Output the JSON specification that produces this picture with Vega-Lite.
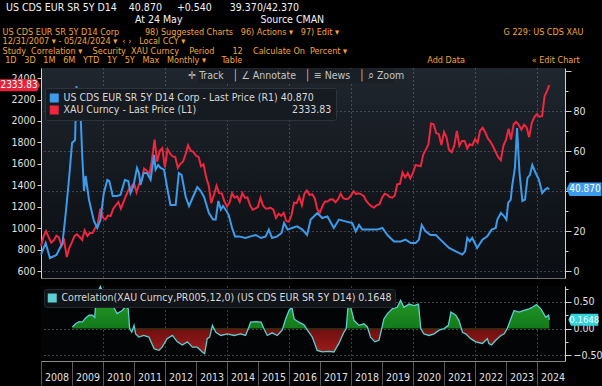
{
 "$schema": "https://vega.github.io/schema/vega-lite/v6.json",
 "background": "#000000",
 "padding": {"left": 0, "top": 2, "right": 0, "bottom": 0},
 "bounds": "flush",
 "spacing": 8,
 "resolve": {"scale": {"color": "independent", "stroke": "independent"}, "legend": {"color": "independent", "stroke": "independent"}},
 "title": {
  "text": ["\u200b\u00a0\u00a0US CDS EUR SR 5Y D14\u00a0\u00a0\u00a0\u00a040.870\u00a0\u00a0\u00a0\u00a0\u00a0+0.540\u00a0\u00a0\u00a0\u00a0\u00a0\u00a039.370/42.370", "\u200b\u00a0\u00a0\u00a0\u00a0\u00a0\u00a0\u00a0\u00a0\u00a0\u00a0\u00a0\u00a0\u00a0\u00a0\u00a0\u00a0\u00a0\u00a0\u00a0\u00a0\u00a0\u00a0\u00a0\u00a0\u00a0\u00a0\u00a0\u00a0\u00a0\u00a0\u00a0\u00a0\u00a0\u00a0\u00a0\u00a0\u00a0\u00a0\u00a0\u00a0\u00a0\u00a0\u00a0\u00a0\u00a0At 24 May\u00a0\u00a0\u00a0\u00a0\u00a0\u00a0\u00a0\u00a0\u00a0\u00a0\u00a0\u00a0\u00a0\u00a0\u00a0\u00a0\u00a0\u00a0\u00a0\u00a0\u00a0\u00a0\u00a0\u00a0\u00a0\u00a0Source CMAN"],
  "subtitle": ["\u200b\u00a0US CDS EUR SR 5Y D14 Corp\u00a0\u00a0\u00a0\u00a0\u00a0\u00a0\u00a0\u00a0\u00a0\u00a098) Suggested Charts\u00a0\u00a0\u00a096) Actions \u25be\u00a0\u00a0\u00a097) Edit \u25be\u00a0\u00a0\u00a0\u00a0\u00a0\u00a0\u00a0\u00a0\u00a0\u00a0\u00a0\u00a0\u00a0\u00a0\u00a0\u00a0\u00a0\u00a0\u00a0\u00a0\u00a0\u00a0\u00a0\u00a0\u00a0\u00a0\u00a0\u00a0\u00a0\u00a0\u00a0\u00a0\u00a0\u00a0\u00a0\u00a0\u00a0\u00a0\u00a0\u00a0\u00a0\u00a0\u00a0\u00a0\u00a0\u00a0\u00a0\u00a0\u00a0\u00a0\u00a0\u00a0\u00a0\u00a0\u00a0\u00a0\u00a0\u00a0\u00a0\u00a0\u00a0\u00a0\u00a0\u00a0G 229: US CDS XAU", "\u200b\u00a012/31/2007 \u25be - 05/24/2024 \u25be\u00a0\u00a0\u2039 \u203a\u00a0\u00a0\u00a0Local CCY \u25be", "\u200b\u00a0Study\u00a0\u00a0Correlation \u25be\u00a0\u00a0\u00a0\u00a0Security\u00a0\u00a0XAU Curncy\u00a0\u00a0\u00a0\u00a0Period\u00a0\u00a0\u00a0\u00a0\u00a0\u00a0\u00a012\u00a0\u00a0\u00a0\u00a0Calculate On\u00a0\u00a0Percent \u25be", "\u200b\u00a0\u00a01D\u00a0\u00a0\u00a03D\u00a0\u00a0\u00a01M\u00a0\u00a0\u00a06M\u00a0\u00a0\u00a0YTD\u00a0\u00a0\u00a01Y\u00a0\u00a0\u00a05Y\u00a0\u00a0\u00a0Max\u00a0\u00a0\u00a0Monthly \u25be\u00a0\u00a0\u00a0\u00a0\u00a0\u00a0Table\u00a0\u00a0\u00a0\u00a0\u00a0\u00a0\u00a0\u00a0\u00a0\u00a0\u00a0\u00a0\u00a0\u00a0\u00a0\u00a0\u00a0\u00a0\u00a0\u00a0\u00a0\u00a0\u00a0\u00a0\u00a0\u00a0\u00a0\u00a0\u00a0\u00a0\u00a0\u00a0\u00a0\u00a0\u00a0\u00a0\u00a0\u00a0\u00a0\u00a0\u00a0\u00a0\u00a0\u00a0\u00a0\u00a0\u00a0\u00a0\u00a0\u00a0\u00a0\u00a0\u00a0\u00a0\u00a0\u00a0\u00a0\u00a0\u00a0\u00a0\u00a0\u00a0\u00a0\u00a0\u00a0\u00a0\u00a0\u00a0\u00a0\u00a0\u00a0\u00a0Add Data\u00a0\u00a0\u00a0\u00a0\u00a0\u00a0\u00a0\u00a0\u00a0\u00a0\u00a0\u00a0\u00a0\u00a0\u00a0\u00a0\u00a0\u00a0\u00a0\u00a0\u00a0\u00a0\u00a0\u00a0\u00a0\u00a0\u00ab Edit Chart"],
  "anchor": "start",
  "frame": "bounds",
  "font": "DejaVu Sans Condensed, Liberation Sans Narrow, Liberation Sans, sans-serif",
  "fontSize": 10.5,
  "lineHeight": 12.5,
  "fontWeight": "normal",
  "color": "#f2f2f2",
  "subtitleFont": "DejaVu Sans Condensed, Liberation Sans Narrow, Liberation Sans, sans-serif",
  "subtitleFontSize": 9,
  "subtitleLineHeight": 9.5,
  "subtitleColor": "#f3a43a",
  "subtitlePadding": 2,
  "offset": 1
 },
 "datasets": {
  "xau": [
   {"date":"2008-01-01","value":834},{"date":"2008-01-31","value":923},{"date":"2008-02-29","value":972},{"date":"2008-03-31","value":916},{"date":"2008-04-30","value":865},{"date":"2008-05-30","value":886},{"date":"2008-06-30","value":930},{"date":"2008-07-31","value":913},{"date":"2008-08-29","value":834},{"date":"2008-09-30","value":884},{"date":"2008-10-31","value":730},{"date":"2008-11-28","value":815},{"date":"2008-12-31","value":870},
   {"date":"2009-01-30","value":928},{"date":"2009-02-27","value":943},{"date":"2009-03-31","value":917},{"date":"2009-04-30","value":890},{"date":"2009-05-29","value":980},{"date":"2009-06-30","value":927},{"date":"2009-07-31","value":955},{"date":"2009-08-31","value":955},{"date":"2009-09-30","value":1001},{"date":"2009-10-30","value":1040},{"date":"2009-11-30","value":1182},{"date":"2009-12-31","value":1097},
   {"date":"2010-01-29","value":1081},{"date":"2010-02-26","value":1118},{"date":"2010-03-31","value":1113},{"date":"2010-04-30","value":1180},{"date":"2010-05-31","value":1213},{"date":"2010-06-30","value":1244},{"date":"2010-07-30","value":1181},{"date":"2010-08-31","value":1248},{"date":"2010-09-30","value":1307},{"date":"2010-10-29","value":1357},{"date":"2010-11-30","value":1386},{"date":"2010-12-31","value":1421},
   {"date":"2011-01-31","value":1333},{"date":"2011-02-28","value":1410},{"date":"2011-03-31","value":1439},{"date":"2011-04-29","value":1556},{"date":"2011-05-31","value":1536},{"date":"2011-06-30","value":1500},{"date":"2011-07-29","value":1628},{"date":"2011-08-31","value":1826},{"date":"2011-09-30","value":1620},{"date":"2011-10-31","value":1722},{"date":"2011-11-30","value":1746},{"date":"2011-12-30","value":1566},
   {"date":"2012-01-31","value":1737},{"date":"2012-02-29","value":1697},{"date":"2012-03-30","value":1669},{"date":"2012-04-30","value":1664},{"date":"2012-05-31","value":1561},{"date":"2012-06-29","value":1598},{"date":"2012-07-31","value":1622},{"date":"2012-08-31","value":1691},{"date":"2012-09-28","value":1772},{"date":"2012-10-31","value":1720},{"date":"2012-11-30","value":1711},{"date":"2012-12-31","value":1675},
   {"date":"2013-01-31","value":1664},{"date":"2013-02-28","value":1578},{"date":"2013-03-29","value":1596},{"date":"2013-04-30","value":1472},{"date":"2013-05-31","value":1393},{"date":"2013-06-28","value":1234},{"date":"2013-07-31","value":1312},{"date":"2013-08-30","value":1396},{"date":"2013-09-30","value":1326},{"date":"2013-10-31","value":1323},{"date":"2013-11-29","value":1253},{"date":"2013-12-31","value":1202},
   {"date":"2014-01-31","value":1240},{"date":"2014-02-28","value":1326},{"date":"2014-03-31","value":1284},{"date":"2014-04-30","value":1296},{"date":"2014-05-30","value":1246},{"date":"2014-06-30","value":1327},{"date":"2014-07-31","value":1282},{"date":"2014-08-29","value":1287},{"date":"2014-09-30","value":1210},{"date":"2014-10-31","value":1172},{"date":"2014-11-28","value":1183},{"date":"2014-12-31","value":1199},
   {"date":"2015-01-30","value":1284},{"date":"2015-02-27","value":1213},{"date":"2015-03-31","value":1183},{"date":"2015-04-30","value":1184},{"date":"2015-05-29","value":1190},{"date":"2015-06-30","value":1172},{"date":"2015-07-31","value":1095},{"date":"2015-08-31","value":1135},{"date":"2015-09-30","value":1115},{"date":"2015-10-30","value":1142},{"date":"2015-11-30","value":1065},{"date":"2015-12-31","value":1061},
   {"date":"2016-01-29","value":1118},{"date":"2016-02-29","value":1238},{"date":"2016-03-31","value":1233},{"date":"2016-04-29","value":1293},{"date":"2016-05-31","value":1215},{"date":"2016-06-30","value":1322},{"date":"2016-07-29","value":1351},{"date":"2016-08-31","value":1309},{"date":"2016-09-30","value":1316},{"date":"2016-10-31","value":1277},{"date":"2016-11-30","value":1173},{"date":"2016-12-30","value":1146},
   {"date":"2017-01-31","value":1211},{"date":"2017-02-28","value":1249},{"date":"2017-03-31","value":1249},{"date":"2017-04-28","value":1268},{"date":"2017-05-31","value":1269},{"date":"2017-06-30","value":1242},{"date":"2017-07-31","value":1269},{"date":"2017-08-31","value":1322},{"date":"2017-09-29","value":1280},{"date":"2017-10-31","value":1271},{"date":"2017-11-30","value":1275},{"date":"2017-12-29","value":1303},
   {"date":"2018-01-31","value":1345},{"date":"2018-02-28","value":1318},{"date":"2018-03-30","value":1325},{"date":"2018-04-30","value":1316},{"date":"2018-05-31","value":1299},{"date":"2018-06-29","value":1253},{"date":"2018-07-31","value":1224},{"date":"2018-08-31","value":1202},{"date":"2018-09-28","value":1192},{"date":"2018-10-31","value":1215},{"date":"2018-11-30","value":1222},{"date":"2018-12-31","value":1282},
   {"date":"2019-01-31","value":1321},{"date":"2019-02-28","value":1313},{"date":"2019-03-29","value":1292},{"date":"2019-04-30","value":1284},{"date":"2019-05-31","value":1305},{"date":"2019-06-28","value":1409},{"date":"2019-07-31","value":1414},{"date":"2019-08-30","value":1520},{"date":"2019-09-30","value":1472},{"date":"2019-10-31","value":1513},{"date":"2019-11-29","value":1464},{"date":"2019-12-31","value":1517},
   {"date":"2020-01-31","value":1589},{"date":"2020-02-28","value":1585},{"date":"2020-03-31","value":1577},{"date":"2020-04-30","value":1687},{"date":"2020-05-29","value":1730},{"date":"2020-06-30","value":1781},{"date":"2020-07-31","value":1975},{"date":"2020-08-31","value":1968},{"date":"2020-09-30","value":1886},{"date":"2020-10-30","value":1879},{"date":"2020-11-30","value":1776},{"date":"2020-12-31","value":1898},
   {"date":"2021-01-29","value":1847},{"date":"2021-02-26","value":1734},{"date":"2021-03-31","value":1708},{"date":"2021-04-30","value":1769},{"date":"2021-05-31","value":1907},{"date":"2021-06-30","value":1770},{"date":"2021-07-30","value":1814},{"date":"2021-08-31","value":1814},{"date":"2021-09-30","value":1743},{"date":"2021-10-29","value":1783},{"date":"2021-11-30","value":1774},{"date":"2021-12-31","value":1829},
   {"date":"2022-01-31","value":1797},{"date":"2022-02-28","value":1909},{"date":"2022-03-31","value":1937},{"date":"2022-04-29","value":1897},{"date":"2022-05-31","value":1837},{"date":"2022-06-30","value":1807},{"date":"2022-07-29","value":1766},{"date":"2022-08-31","value":1711},{"date":"2022-09-30","value":1661},{"date":"2022-10-31","value":1633},{"date":"2022-11-30","value":1768},{"date":"2022-12-30","value":1824},
   {"date":"2023-01-31","value":1928},{"date":"2023-02-28","value":1827},{"date":"2023-03-31","value":1969},{"date":"2023-04-28","value":1990},{"date":"2023-05-31","value":1963},{"date":"2023-06-30","value":1919},{"date":"2023-07-31","value":1965},{"date":"2023-08-31","value":1940},{"date":"2023-09-29","value":1849},{"date":"2023-10-31","value":1983},{"date":"2023-11-30","value":2036},{"date":"2023-12-29","value":2063},
   {"date":"2024-01-31","value":2039},{"date":"2024-02-29","value":2044},{"date":"2024-03-29","value":2230},{"date":"2024-04-30","value":2286},{"date":"2024-05-24","value":2334}
  ],
  "cds": [
   {"date":"2008-01-01","value":8.2},{"date":"2008-02-25","value":14},{"date":"2008-04-15","value":6.5},{"date":"2008-07-01","value":8},{"date":"2008-09-10","value":14},{"date":"2008-10-15","value":27.5},{"date":"2008-11-25","value":45.5},
   {"date":"2009-01-01","value":64},{"date":"2009-02-05","value":65.5},{"date":"2009-02-22","value":92.5},{"date":"2009-03-15","value":79},{"date":"2009-04-01","value":89},{"date":"2009-05-01","value":57.5},{"date":"2009-05-22","value":40},{"date":"2009-06-10","value":47.5},{"date":"2009-07-20","value":35.5},{"date":"2009-09-15","value":25},{"date":"2009-10-25","value":21.5},{"date":"2009-12-01","value":25.5},
   {"date":"2010-01-10","value":39},{"date":"2010-02-20","value":45.5},{"date":"2010-03-15","value":45},{"date":"2010-04-25","value":37.5},{"date":"2010-06-15","value":37.5},{"date":"2010-07-25","value":38},{"date":"2010-09-15","value":45.5},{"date":"2010-10-25","value":45},{"date":"2010-11-20","value":39},{"date":"2010-12-25","value":42.5},
   {"date":"2011-02-05","value":51.5},{"date":"2011-02-28","value":49},{"date":"2011-03-18","value":43},{"date":"2011-04-25","value":49},{"date":"2011-06-01","value":49},{"date":"2011-07-15","value":45.7},{"date":"2011-08-25","value":58},{"date":"2011-09-12","value":50.7},{"date":"2011-10-12","value":53},{"date":"2011-11-10","value":51.5},{"date":"2011-12-20","value":50.7},
   {"date":"2012-01-25","value":42},{"date":"2012-03-05","value":33},{"date":"2012-05-05","value":33},{"date":"2012-06-12","value":49},{"date":"2012-07-15","value":48},{"date":"2012-09-01","value":37},{"date":"2012-10-10","value":32.5},{"date":"2012-11-25","value":37},
   {"date":"2013-01-15","value":42},{"date":"2013-02-25","value":40},{"date":"2013-04-05","value":37},{"date":"2013-06-01","value":29},{"date":"2013-07-20","value":25.7},{"date":"2013-08-20","value":25.7},{"date":"2013-09-20","value":35},{"date":"2013-10-20","value":30.7},{"date":"2013-11-15","value":32.5},{"date":"2013-12-25","value":30},
   {"date":"2014-01-20","value":28},{"date":"2014-03-01","value":21.5},{"date":"2014-04-05","value":17.3},{"date":"2014-05-20","value":17.3},{"date":"2014-08-05","value":16.5},{"date":"2014-10-05","value":17.3},{"date":"2014-12-05","value":18},
   {"date":"2015-02-05","value":16.5},{"date":"2015-04-01","value":17.3},{"date":"2015-05-08","value":20.7},{"date":"2015-06-15","value":16.5},{"date":"2015-08-15","value":17.3},{"date":"2015-10-05","value":19},{"date":"2015-11-03","value":24},{"date":"2015-12-15","value":20.7},
   {"date":"2016-02-05","value":21.5},{"date":"2016-04-05","value":22.3},{"date":"2016-06-05","value":20.7},{"date":"2016-08-01","value":18},{"date":"2016-09-12","value":25.7},{"date":"2016-12-01","value":29},
   {"date":"2017-01-25","value":26.5},{"date":"2017-03-28","value":27.3},{"date":"2017-06-12","value":21.5},{"date":"2017-08-10","value":25.7},{"date":"2017-10-28","value":24.8},
   {"date":"2018-01-15","value":24},{"date":"2018-02-25","value":19.8},{"date":"2018-04-05","value":23},{"date":"2018-05-12","value":20.7},{"date":"2018-08-01","value":20.7},{"date":"2018-11-05","value":20.7},
   {"date":"2019-01-05","value":21.5},{"date":"2019-03-05","value":18},{"date":"2019-05-22","value":14.8},{"date":"2019-08-08","value":14.8},{"date":"2019-10-05","value":15.7},{"date":"2019-12-05","value":14},
   {"date":"2020-02-01","value":14},{"date":"2020-03-10","value":15.7},{"date":"2020-04-12","value":23},{"date":"2020-05-28","value":19.8},{"date":"2020-07-25","value":18},{"date":"2020-09-25","value":18},{"date":"2020-12-10","value":14.8},
   {"date":"2021-02-28","value":11.5},{"date":"2021-05-18","value":9.8},{"date":"2021-08-03","value":8.2},{"date":"2021-09-05","value":9.8},{"date":"2021-10-01","value":16.5},{"date":"2021-10-30","value":14.8},{"date":"2021-11-28","value":16.5},
   {"date":"2022-01-25","value":11.5},{"date":"2022-03-28","value":15.7},{"date":"2022-05-25","value":17.3},{"date":"2022-07-15","value":20.7},{"date":"2022-09-01","value":21.5},{"date":"2022-09-20","value":25.7},{"date":"2022-11-01","value":29},{"date":"2022-12-10","value":27.3},
   {"date":"2023-01-05","value":25.7},{"date":"2023-01-25","value":34},{"date":"2023-02-25","value":35.7},{"date":"2023-03-12","value":42},{"date":"2023-04-15","value":51.5},{"date":"2023-05-10","value":71.5},{"date":"2023-06-08","value":49},{"date":"2023-07-12","value":35},{"date":"2023-08-12","value":35.7},{"date":"2023-09-10","value":46.5},{"date":"2023-10-08","value":48},{"date":"2023-11-06","value":53},{"date":"2023-12-15","value":49},
   {"date":"2024-01-22","value":45.7},{"date":"2024-03-02","value":39},{"date":"2024-04-05","value":40.7},{"date":"2024-05-01","value":41.5},{"date":"2024-05-24","value":40.87}
  ],
  "corr": [
   {"date":"2009-01-05","value":0.03},{"date":"2009-02-12","value":0.09},{"date":"2009-03-25","value":0.13},{"date":"2009-05-01","value":0.12},{"date":"2009-06-10","value":0.2},{"date":"2009-07-20","value":0.25},{"date":"2009-08-28","value":0.25},{"date":"2009-09-25","value":0.21},{"date":"2009-10-12","value":0.62},{"date":"2009-12-01","value":0.79},
   {"date":"2010-01-10","value":0.62},{"date":"2010-04-01","value":0.59},{"date":"2010-05-08","value":0.4},{"date":"2010-06-15","value":0.28},{"date":"2010-08-15","value":0.34},{"date":"2010-10-01","value":0.43},{"date":"2010-10-25","value":0.37},{"date":"2010-11-10","value":0.0},{"date":"2010-12-05","value":-0.07},
   {"date":"2011-01-01","value":0.06},{"date":"2011-01-20","value":-0.1},{"date":"2011-02-28","value":-0.16},{"date":"2011-04-25","value":-0.13},{"date":"2011-06-25","value":-0.16},{"date":"2011-08-25","value":-0.38},{"date":"2011-10-22","value":-0.41},{"date":"2011-11-28","value":-0.35},
   {"date":"2012-01-25","value":-0.19},{"date":"2012-03-28","value":-0.13},{"date":"2012-05-25","value":-0.25},{"date":"2012-07-22","value":-0.31},{"date":"2012-09-20","value":-0.25},{"date":"2012-11-18","value":-0.35},
   {"date":"2013-01-15","value":-0.35},{"date":"2013-03-15","value":-0.44},{"date":"2013-04-12","value":-0.47},{"date":"2013-05-12","value":-0.19},{"date":"2013-06-10","value":-0.16},{"date":"2013-07-12","value":0.06},{"date":"2013-08-22","value":-0.07},{"date":"2013-10-20","value":-0.13},
   {"date":"2014-01-05","value":-0.1},{"date":"2014-03-25","value":-0.13},{"date":"2014-06-10","value":-0.1},{"date":"2014-08-08","value":-0.13},{"date":"2014-09-15","value":0.03},{"date":"2014-10-05","value":0.12},{"date":"2014-12-05","value":0.13},
   {"date":"2015-02-05","value":0.12},{"date":"2015-03-10","value":0.0},{"date":"2015-04-20","value":-0.13},{"date":"2015-06-15","value":-0.08},{"date":"2015-08-15","value":-0.13},{"date":"2015-10-12","value":-0.03},{"date":"2015-11-22","value":0.18},
   {"date":"2016-01-01","value":0.34},{"date":"2016-02-03","value":0.4},{"date":"2016-03-01","value":0.18},{"date":"2016-04-25","value":0.12},{"date":"2016-06-25","value":0.07},{"date":"2016-08-05","value":-0.03},{"date":"2016-10-01","value":-0.16},{"date":"2016-11-28","value":-0.41},
   {"date":"2017-01-25","value":-0.44},{"date":"2017-04-15","value":-0.43},{"date":"2017-06-12","value":-0.44},{"date":"2017-08-10","value":-0.28},{"date":"2017-10-08","value":-0.07},{"date":"2017-11-05","value":0.0},{"date":"2017-11-28","value":0.46},{"date":"2017-12-28","value":0.4},
   {"date":"2018-02-05","value":0.15},{"date":"2018-04-05","value":0.06},{"date":"2018-06-01","value":0.09},{"date":"2018-07-12","value":0.03},{"date":"2018-08-18","value":-0.16},{"date":"2018-10-08","value":-0.25},{"date":"2018-11-25","value":-0.22},{"date":"2018-12-28","value":0.0},
   {"date":"2019-01-22","value":0.18},{"date":"2019-03-05","value":0.28},{"date":"2019-05-01","value":0.37},{"date":"2019-06-28","value":0.4},{"date":"2019-08-08","value":0.53},{"date":"2019-09-15","value":0.4},{"date":"2019-11-15","value":0.46},
   {"date":"2020-01-12","value":0.43},{"date":"2020-03-05","value":0.46},{"date":"2020-04-01","value":0.0},{"date":"2020-05-08","value":-0.1},{"date":"2020-07-08","value":-0.13},{"date":"2020-09-05","value":-0.1},{"date":"2020-11-03","value":-0.03},
   {"date":"2021-01-01","value":0.0},{"date":"2021-02-20","value":0.06},{"date":"2021-03-22","value":0.31},{"date":"2021-05-18","value":0.25},{"date":"2021-06-25","value":0.15},{"date":"2021-08-05","value":-0.07},{"date":"2021-09-12","value":-0.1},{"date":"2021-11-10","value":-0.19},
   {"date":"2022-01-08","value":-0.25},{"date":"2022-03-28","value":-0.28},{"date":"2022-05-25","value":-0.19},{"date":"2022-06-12","value":-0.28},{"date":"2022-07-15","value":-0.31},{"date":"2022-09-01","value":-0.22},{"date":"2022-11-01","value":-0.13},{"date":"2022-12-10","value":-0.1},
   {"date":"2023-01-15","value":0.0},{"date":"2023-02-25","value":0.18},{"date":"2023-04-05","value":0.34},{"date":"2023-06-01","value":0.31},{"date":"2023-07-30","value":0.34},{"date":"2023-09-28","value":0.37},{"date":"2023-11-06","value":0.4},{"date":"2023-12-25","value":0.45},
   {"date":"2024-02-15","value":0.37},{"date":"2024-04-12","value":0.21},{"date":"2024-05-15","value":0.25},{"date":"2024-05-24","value":0.1648}
  ]
 },
 "vconcat": [
  {
   "width": 524,
   "height": 210,
   "view": {"stroke": null, "fill": {"gradient": "linear", "x1": 0, "y1": 0, "x2": 0, "y2": 1, "stops": [{"offset": 0, "color": "#1f262e"}, {"offset": 1, "color": "#0a0d11"}]}},
   "layer": [
    {
     "encoding": {"y": {"field": "value", "type": "quantitative",
      "scale": {"domain": [535, 2494], "nice": false, "zero": false},
      "axis": {"orient": "left", "values": [600,800,1000,1200,1400,1600,1800,2000,2200,2400], "format": "d", "tickSize": 4, "labelPadding": 2, "grid": false, "title": null, "domainColor": "#d0d0d0", "tickColor": "#d0d0d0"}}},
     "layer": [
      {"data": {"name": "xau"},
       "mark": {"type": "line", "strokeWidth": 2, "interpolate": "linear"},
       "encoding": {
        "x": {"field": "date", "type": "temporal",
         "scale": {"domain": [1199145600000, 1732492800000]},
         "axis": {"values": [1199145600000, 1262304000000, 1325376000000, 1388534400000, 1451606400000, 1514764800000, 1577836800000, 1640995200000, 1704067200000],
          "labels": false, "ticks": false, "grid": true, "gridColor": "#6f757c", "gridDash": [1, 3],
          "gridOpacity": {"condition": {"test": "datum.value > 1200000000000", "value": 1}, "value": 0},
          "domainColor": "#6a6a6a", "title": null}},
        "color": {"datum": "XAU", "type": "nominal", "scale": {"domain": ["CDS", "XAU"], "range": ["#3d9bec", "#ef2640"]},
        "legend": {"title": null, "orient": "none", "legendX": 4, "legendY": 20, "symbolType": "square", "symbolSize": 16, "symbolStrokeWidth": 5, "clipHeight": 12, "labelColor": "#d8d8d8", "labelFontSize": 10.5, "labelFont": "DejaVu Sans Condensed, Liberation Sans Narrow, Liberation Sans, sans-serif", "fillColor": "#161b21", "strokeColor": "#2e343b", "padding": 4, "rowPadding": 0, "cornerRadius": 2, "labelLimit": 400,
         "labelExpr": "datum.value == 'CDS' ? 'US CDS EUR SR 5Y D14 Corp - Last Price (R1)\u00a040.870' : 'XAU Curncy - Last Price (L1)\u00a0\u00a0\u00a0\u00a0\u00a0\u00a0\u00a0\u00a0\u00a0\u00a0\u00a0\u00a0\u00a0\u00a0\u00a0\u00a0\u00a0\u00a0\u00a0\u00a0\u00a0\u00a0\u00a0\u00a0\u00a0\u00a0\u00a0\u00a0\u00a0\u00a0\u00a0\u00a02333.83'"}}}},
      {"data": {"values": [{"value": 2333.83, "label": "2333.83"}]},
       "mark": {"type": "point", "filled": true, "opacity": 1, "color": "#e8223a", "size": 1600, "xOffset": -21, "shape": "M-1,-0.3L0.85,-0.3L1,0L0.85,0.3L-1,0.3Z", "strokeWidth": 0},
       "encoding": {"x": {"datum": 1199145600000, "type": "temporal"}}},
      {"data": {"values": [{"value": 2333.83, "label": "2333.83"}]},
       "mark": {"type": "text", "color": "#ffffff", "fontSize": 10, "dx": -22, "align": "center", "baseline": "middle", "font": "DejaVu Sans Condensed, Liberation Sans Narrow, Liberation Sans, sans-serif"},
       "encoding": {"x": {"datum": 1199145600000, "type": "temporal"}, "text": {"field": "label"}}},
      {"data": {"values": [{"value": 2419, "label": "\u271b Track\u00a0\u00a0\u00a0\u2502\u00a0\u2220 Annotate\u00a0\u00a0\u00a0\u2502\u00a0\u2261 News\u00a0\u00a0\u00a0\u2502\u00a0\u2315 Zoom"}]},
       "mark": {"type": "point", "filled": true, "opacity": 1, "color": "#1a1f25", "size": 38000, "shape": "M-1,-0.075L1,-0.075L1,0.075L-1,0.075Z", "strokeWidth": 0},
       "encoding": {"x": {"datum": 1458864000000, "type": "temporal"}}},
      {"data": {"values": [{"value": 2419, "label": "\u271b Track\u00a0\u00a0\u00a0\u2502\u00a0\u2220 Annotate\u00a0\u00a0\u00a0\u2502\u00a0\u2261 News\u00a0\u00a0\u00a0\u2502\u00a0\u2315 Zoom"}]},
       "mark": {"type": "text", "color": "#c4c4c4", "fontSize": 10.5, "align": "center", "baseline": "middle", "font": "DejaVu Sans Condensed, Liberation Sans Narrow, Liberation Sans, sans-serif"},
       "encoding": {"x": {"datum": 1458864000000, "type": "temporal"}, "text": {"field": "label"}}}
     ]
    },
    {
     "encoding": {"y": {"field": "value", "type": "quantitative",
      "scale": {"domain": [-3.5, 101.5], "nice": false, "zero": false},
      "axis": {"orient": "right", "values": [0,10,20,30,40,50,60,70,80,90,100], "title": null, "labelPadding": 2,
       "tickSize": {"condition": {"test": "datum.value % 20 == 0", "value": 6}, "value": 3},
       "labelExpr": "(datum.value % 20 == 0 && datum.value <= 80 && datum.value != 40) ? datum.label : ''",
       "grid": true, "gridColor": "#6f757c", "gridDash": [1, 3],
       "gridOpacity": {"condition": {"test": "datum.value % 20 == 0 && datum.value <= 80", "value": 1}, "value": 0},
       "domainColor": "#d0d0d0", "tickColor": "#d0d0d0"}}},
     "layer": [
      {"data": {"name": "cds"},
       "mark": {"type": "line", "strokeWidth": 2, "interpolate": "linear"},
       "encoding": {
        "x": {"field": "date", "type": "temporal",
         "scale": {"domain": [1199145600000, 1732492800000]},
         "axis": {"values": [1199145600000, 1262304000000, 1325376000000, 1388534400000, 1451606400000, 1514764800000, 1577836800000, 1640995200000, 1704067200000],
          "labels": false, "ticks": false, "grid": true, "gridColor": "#6f757c", "gridDash": [1, 3],
          "gridOpacity": {"condition": {"test": "datum.value > 1200000000000", "value": 1}, "value": 0},
          "domainColor": "#6a6a6a", "title": null}},
        "color": {"datum": "CDS", "type": "nominal"}}},
      {"data": {"values": [{"value": 40.87, "label": "40.870"}]},
       "mark": {"type": "point", "filled": true, "opacity": 1, "color": "#3d9bec", "size": 1225, "xOffset": 19, "shape": "M-1,0L-0.82,-0.38L1,-0.38L1,0.38L-0.82,0.38Z", "strokeWidth": 0},
       "encoding": {"x": {"datum": 1732492800000, "type": "temporal"}}},
      {"data": {"values": [{"value": 40.87, "label": "40.870"}]},
       "mark": {"type": "text", "color": "#ffffff", "fontSize": 10, "dx": 20, "align": "center", "baseline": "middle", "font": "DejaVu Sans Condensed, Liberation Sans Narrow, Liberation Sans, sans-serif"},
       "encoding": {"x": {"datum": 1732492800000, "type": "temporal"}, "text": {"field": "label"}}}
     ]
    }
   ],
   "resolve": {"scale": {"y": "independent"}}
  },
  {
   "width": 524,
   "height": 75,
   "view": {"stroke": null, "fill": "#030405"},
   "encoding": {
    "x": {"field": "date", "type": "temporal",
     "scale": {"domain": [1199145600000, 1732492800000]},
     "axis": {"values": [1199145600000, 1230768000000, 1262304000000, 1293840000000, 1325376000000, 1356998400000, 1388534400000, 1420070400000, 1451606400000, 1483228800000, 1514764800000, 1546300800000, 1577836800000, 1609459200000, 1640995200000, 1672531200000, 1704067200000],
      "labelExpr": "timeFormat(datum.value, '%Y')", "labelOffset": 15.5, "labelFlush": false, "labelOverlap": false, "labelBound": false, "tickSize": 24, "labelPadding": -8, "labelBaseline": "middle", "labelFontSize": 10.5, "labelColor": "#e0e0e0",
      "tickColor": "#5a5a5a", "domainColor": "#8a8a8a", "title": null,
      "grid": true, "gridColor": "#6f757c", "gridDash": [1, 3],
      "gridOpacity": {"condition": {"test": "year(datum.value) % 2 == 0 && year(datum.value) > 2008", "value": 1}, "value": 0}}},
    "y": {"field": "value", "type": "quantitative",
     "scale": {"domain": [-0.61, 0.8], "nice": false, "zero": false},
     "axis": {"orient": "right", "values": [-0.5, -0.25, 0, 0.25, 0.5, 0.75], "title": null, "labelPadding": 2,
      "tickSize": {"condition": {"test": "abs(datum.value) == 0.5 || datum.value == 0", "value": 6}, "value": 3},
      "labelExpr": "(abs(datum.value) == 0.5 || datum.value == 0) ? format(datum.value, '.2f') : ''",
      "grid": true, "gridColor": "#8a8a8a", "gridDash": [1, 3],
      "gridOpacity": {"condition": {"test": "abs(datum.value) == 0.5 || datum.value == 0", "value": 1}, "value": 0},
      "domainColor": "#d0d0d0", "tickColor": "#d0d0d0"}}
   },
   "layer": [
    {"data": {"name": "corr"},
     "mark": {"type": "area", "interpolate": "linear", "opacity": 1,
      "color": {"gradient": "linear", "x1": 0, "y1": 0, "x2": 0, "y2": 1, "stops": [{"offset": 0, "color": "#2aa32a"}, {"offset": 0.626, "color": "#137a1b"}, {"offset": 0.628, "color": "#6e0f0f"}, {"offset": 1, "color": "#a01c1c"}]}},
     "encoding": {"y2": {"datum": 0}}},
    {"data": {"name": "corr"},
     "mark": {"type": "line", "strokeWidth": 1.3, "interpolate": "linear"},
     "encoding": {
      "stroke": {"datum": "corr", "type": "nominal", "scale": {"domain": ["corr"], "range": ["#5ccfd2"]},
      "legend": {"title": null, "orient": "top-left", "offset": 3, "symbolType": "square", "symbolSize": 16, "symbolStrokeWidth": 5, "clipHeight": 12, "labelColor": "#d8d8d8", "labelFontSize": 10.5, "labelFont": "DejaVu Sans Condensed, Liberation Sans Narrow, Liberation Sans, sans-serif", "fillColor": "#111418", "strokeColor": "#24292f", "padding": 3, "cornerRadius": 2, "labelLimit": 400,
       "labelExpr": "'Correlation(XAU Curncy,PR005,12,0) (US CDS EUR SR 5Y D14) 0.1648'"}}}},
    {"data": {"values": [{"value": 0.1648, "label": "0.1648", "date": "2024-05-24"}]},
     "mark": {"type": "point", "filled": true, "opacity": 1, "color": "#31d3df", "size": 900, "xOffset": 34, "shape": "M-1,0L-0.82,-0.4L1,-0.4L1,0.4L-0.82,0.4Z", "strokeWidth": 0}},
    {"data": {"values": [{"value": 0.1648, "label": "0.1648", "date": "2024-05-24"}]},
     "mark": {"type": "text", "color": "#ffffff", "fontSize": 9.5, "dx": 35, "align": "center", "baseline": "middle", "font": "DejaVu Sans Condensed, Liberation Sans Narrow, Liberation Sans, sans-serif"},
     "encoding": {"text": {"field": "label"}}}
   ]
  }
 ],
 "config": {
  "font": "DejaVu Sans Condensed, Liberation Sans Narrow, Liberation Sans, sans-serif",
  "view": {"stroke": null},
  "axis": {"labelColor": "#e0e0e0", "labelFontSize": 10.5, "labelFont": "DejaVu Sans Condensed, Liberation Sans Narrow, Liberation Sans, sans-serif", "title": null, "labelOverlap": false}
 }
}
